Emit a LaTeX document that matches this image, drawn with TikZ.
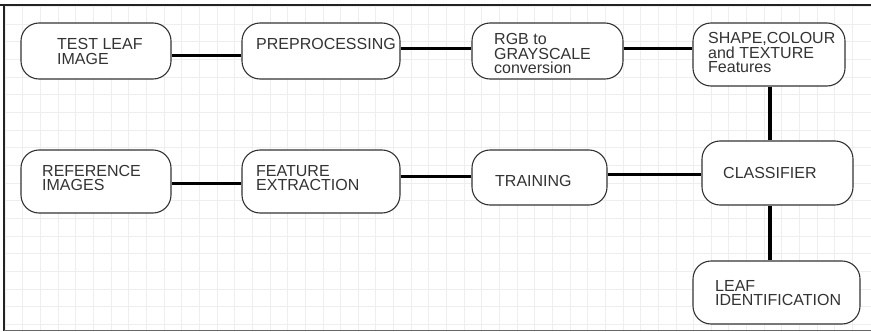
\documentclass[tikz,border=0pt]{standalone}
\usepackage{fontspec}
\setmainfont{Liberation Sans}
\usetikzlibrary{calc}
\definecolor{ink}{HTML}{333333}
\definecolor{gridc}{HTML}{EEEEEE}
\definecolor{frame}{HTML}{222222}
\tikzset{
  box/.style={draw=ink, line width=1.1pt, rounded corners=18pt, fill=white, inner sep=0pt},
  lbl/.style={text=ink, font=\fontsize{16}{14.5}\selectfont, align=left, inner sep=0pt, anchor=north west},
  link/.style={draw=black, line width=3pt},
  vlink/.style={draw=black, line width=4pt},
  gridline/.style={draw=gridc, line width=0.8pt}
}
\begin{document}
\begin{tikzpicture}[x=1pt, y=-1pt]
  \useasboundingbox (0,0) rectangle (871,332);
  \fill[white] (0,0) rectangle (871,332);
  % background grid
  \foreach \i in {0,...,48} \draw[gridline] ({5.2+17.65*\i},5) -- ({5.2+17.65*\i},330);
  \foreach \j in {0,...,18} \draw[gridline] (4,{6.5+17.65*\j}) -- (871,{6.5+17.65*\j});
  % frame
  \draw[frame, line width=1.6pt] (0,5) -- (871,5);
  \draw[frame, line width=2pt] (4,5) -- (4,331);
  \draw[color=black!60, line width=1.6pt] (4,330.5) -- (871,330.5);

  % boxes (minimum width/height, centres)
  \node[box, minimum width=150pt, minimum height=56pt] (b1) at (96,51) {};
  \node[box, minimum width=158pt, minimum height=56pt] (b2) at (321,51) {};
  \node[box, minimum width=151pt, minimum height=56pt] (b3) at (547.5,51) {};
  \node[box, minimum width=152pt, minimum height=63pt] (b4) at (769,54.5) {};
  \node[box, minimum width=150pt, minimum height=63pt] (b5) at (96,181.5) {};
  \node[box, minimum width=158pt, minimum height=63pt] (b6) at (321,181.5) {};
  \node[box, minimum width=135pt, minimum height=55pt] (b7) at (539.5,177.5) {};
  \node[box, minimum width=151pt, minimum height=64pt] (b8) at (777.5,173) {};
  \node[box, minimum width=167pt, minimum height=63pt] (b9) at (776.5,292.5) {};

  % labels
  \node[lbl] (t1) at (57,38.3) {TEST LEAF\\IMAGE};
  \node[lbl] (t2) at (256,38.3) {PREPROCESSING};
  \node[lbl] (t3) at (494,33.3) {RGB to\\GRAYSCALE\\conversion};
  \node[lbl] (t4) at (708,32.5) {SHAPE,COLOUR\\and TEXTURE\\Features};
  \node[lbl] (t5) at (42,165) {REFERENCE\\IMAGES};
  \node[lbl] (t6) at (256,165) {FEATURE\\EXTRACTION};
  \node[lbl] (t7) at (495,175) {TRAINING};
  \node[lbl] (t8) at (723,166.7) {CLASSIFIER};
  \node[lbl] (t9) at (715,280) {LEAF\\IDENTIFICATION};

  % connectors
  \draw[link] (b1.east |- 0,55) -- (b2.west |- 0,55);
  \draw[link] (b2.east |- 0,48) -- (b3.west |- 0,48);
  \draw[link] (b3.east |- 0,48) -- (b4.west |- 0,48);
  \draw[link] (b5.east |- 0,183) -- (b6.west |- 0,183);
  \draw[link] (b6.east |- 0,176) -- (b7.west |- 0,176);
  \draw[link] (b7.east |- 0,174) -- (b8.west |- 0,174);
  \draw[vlink] (b4.south -| 770,0) -- (b8.north -| 770,0);
  \draw[vlink] (b8.south -| 770,0) -- (b9.north -| 770,0);
\end{tikzpicture}
\end{document}
